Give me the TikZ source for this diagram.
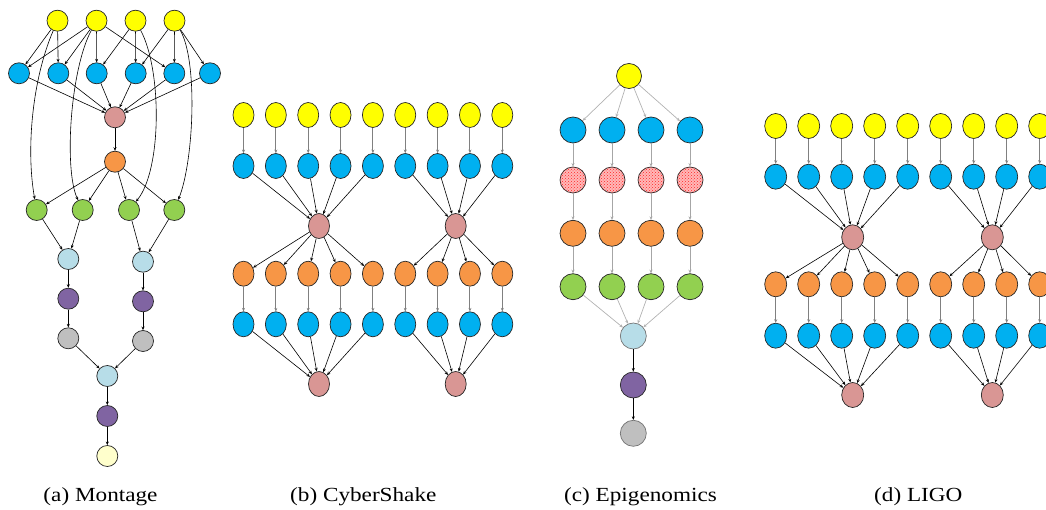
\documentclass[tikz,border=0pt]{standalone}
\usepackage{fontspec}
\setmainfont{Liberation Serif}
\usetikzlibrary{arrows.meta,shapes.geometric,patterns}

\definecolor{cyellow}{HTML}{FFFF00}
\definecolor{cblue}{HTML}{00B0F0}
\definecolor{cpink}{HTML}{D99694}
\definecolor{corange}{HTML}{F79646}
\definecolor{cgreen}{HTML}{92D050}
\definecolor{clblue}{HTML}{B7DDE8}
\definecolor{cpurple}{HTML}{8064A2}
\definecolor{cgray}{HTML}{BFBFBF}
\definecolor{clyellow}{HTML}{FFFFCC}
\definecolor{cdots}{HTML}{FFB8B8}

\begin{document}
\begin{tikzpicture}[x=1pt, y=-1pt, >={Stealth[length=3.6pt,width=3pt]}, every node/.style={inner sep=0pt}]
    % 样式定义
    \tikzstyle{job} = [circle, draw=black!85, line width=0.7pt, minimum size=21pt]
    \tikzstyle{ejob} = [ellipse, draw=black!85, line width=0.7pt, minimum width=21pt, minimum height=25pt]
    \tikzstyle{arrow} = [line width=0.6pt, ->]
    \tikzstyle{varrow} = [line width=1pt, draw=black!50, ->]
    \tikzstyle{larrow} = [line width=0.7pt, draw=black!30, ->]
    \tikzstyle{caption} = [font=\fontsize{20}{24}\selectfont, xscale=1.16, anchor=base]

    \clip (0,0) rectangle (1046,510);

    % (a) Montage
    \foreach \i/\x in {1/57.5, 2/96.5, 3/135.5, 4/174.5}
        \node[job, fill=cyellow] (mp\i) at (\x,20.7) {};
    \foreach \i/\x in {1/19, 2/58.3, 3/96.7, 4/135.7, 5/174.3, 6/210}
        \node[job, fill=cblue] (md\i) at (\x,73.3) {};
    \node[job, fill=cpink] (mcf) at (115,117.3) {};
    \node[job, fill=corange] (mbg) at (115,161.7) {};
    \foreach \i/\x in {1/36.7, 2/82.7, 3/129, 4/174.3}
        \node[job, fill=cgreen] (mbk\i) at (\x,210) {};
    \node[job, fill=clblue] (mit1) at (68.3,259) {};
    \node[job, fill=clblue] (mit2) at (143,261.7) {};
    \node[job, fill=cpurple] (ma1) at (68.3,298.7) {};
    \node[job, fill=cpurple] (ma2) at (143,301.3) {};
    \node[job, fill=cgray] (ms1) at (68.3,338.3) {};
    \node[job, fill=cgray] (ms2) at (143,341) {};
    \node[job, fill=clblue] (mit3) at (107.3,376) {};
    \node[job, fill=cpurple] (ma3) at (107.3,416) {};
    \node[job, fill=clyellow] (mj) at (107.3,456) {};

    \foreach \a/\b in {1/1, 1/2, 2/1, 2/2, 2/3, 2/5, 3/3, 3/4, 4/4, 4/5, 4/6}
        \draw[arrow] (mp\a) -- (md\b);
    \foreach \i in {1,...,6}
        \draw[arrow] (md\i) -- (mcf);
    \draw[arrow] (mcf) -- (mbg);
    \foreach \i in {1,...,4}
        \draw[arrow] (mbg) -- (mbk\i);
    \draw[arrow] (mp1) .. controls (32,80) and (26,150) .. (mbk1);
    \draw[arrow] (mp2) .. controls (70,70) and (64,170) .. (mbk2);
    \draw[arrow] (mp3) .. controls (162,70) and (162,170) .. (mbk3);
    \draw[arrow] (mp4) .. controls (198,60) and (194,160) .. (mbk4);
    \draw[arrow] (mbk1) -- (mit1);
    \draw[arrow] (mbk2) -- (mit1);
    \draw[arrow] (mbk3) -- (mit2);
    \draw[arrow] (mbk4) -- (mit2);
    \draw[arrow] (mit1) -- (ma1);
    \draw[arrow] (ma1) -- (ms1);
    \draw[arrow] (mit2) -- (ma2);
    \draw[arrow] (ma2) -- (ms2);
    \draw[arrow] (ms1) -- (mit3);
    \draw[arrow] (ms2) -- (mit3);
    \draw[arrow] (mit3) -- (ma3);
    \draw[arrow] (ma3) -- (mj);

    % (b) CyberShake
    \foreach \i in {1,...,9} {
        \node[ejob, fill=cyellow] (cs-y\i) at ({243.5+32.35*(\i-1)},115) {};
        \node[ejob, fill=cblue] (cs-b\i) at ({243.5+32.35*(\i-1)},166) {};
        \node[ejob, fill=corange] (cs-o\i) at ({243.5+32.35*(\i-1)},273.7) {};
        \node[ejob, fill=cblue] (cs-c\i) at ({243.5+32.35*(\i-1)},324.3) {};
        \draw[varrow] (cs-y\i) -- (cs-b\i);
        \draw[varrow] (cs-o\i) -- (cs-c\i);
    }
    \node[ejob, fill=cpink] (cs-z1) at (319,226) {};
    \node[ejob, fill=cpink] (cs-z2) at (455.7,226) {};
    \node[ejob, fill=cpink] (cs-w1) at (319,384) {};
    \node[ejob, fill=cpink] (cs-w2) at (455.7,384) {};
    \foreach \i in {1,...,5} {
        \draw[arrow] (cs-b\i) -- (cs-z1);
        \draw[arrow] (cs-z1) -- (cs-o\i);
        \draw[arrow] (cs-c\i) -- (cs-w1);
    }
    \foreach \i in {6,...,9} {
        \draw[arrow] (cs-b\i) -- (cs-z2);
        \draw[arrow] (cs-z2) -- (cs-o\i);
        \draw[arrow] (cs-c\i) -- (cs-w2);
    }

    % (c) Epigenomics
    \node[job, minimum size=25pt, fill=cyellow] (ef) at (629,76) {};
    \foreach \i in {1,...,4} {
        \node[job, minimum size=26pt, fill=cblue] (efc\i) at ({573+39*(\i-1)},130) {};
        \node[job, minimum size=26pt, fill=cdots, postaction={pattern=crosshatch dots, pattern color=red!85}] (es\i) at ({573+39*(\i-1)},180) {};
        \node[job, minimum size=26pt, fill=corange] (eb\i) at ({573+39*(\i-1)},233.3) {};
        \node[job, minimum size=26pt, fill=cgreen] (em\i) at ({573+39*(\i-1)},286.7) {};
        \draw[larrow] (ef) -- (efc\i);
        \draw[varrow, draw=black!35] (efc\i) -- (es\i);
        \draw[varrow, draw=black!35] (es\i) -- (eb\i);
        \draw[varrow, draw=black!35] (eb\i) -- (em\i);
    }
    \node[job, minimum size=26pt, draw=black!55, fill=clblue] (emm) at (633.3,336) {};
    \node[job, minimum size=26pt, fill=cpurple] (ei) at (633.3,385) {};
    \node[job, minimum size=26pt, draw=black!55, fill=cgray] (ep) at (633.3,433.3) {};
    \foreach \i in {1,...,4}
        \draw[larrow] (em\i) -- (emm);
    \draw[arrow] (emm) -- (ei);
    \draw[arrow] (ei) -- (ep);

    % (d) LIGO
    \foreach \i in {1,...,9} {
        \node[ejob, minimum width=22pt, fill=cyellow] (lg-y\i) at ({775.7+33*(\i-1)},126) {};
        \node[ejob, minimum width=22pt, fill=cblue] (lg-b\i) at ({775.7+33*(\i-1)},176.7) {};
        \node[ejob, minimum width=22pt, fill=corange] (lg-o\i) at ({775.7+33*(\i-1)},284.3) {};
        \node[ejob, minimum width=22pt, fill=cblue] (lg-c\i) at ({775.7+33*(\i-1)},335.7) {};
        \draw[varrow] (lg-y\i) -- (lg-b\i);
        \draw[varrow] (lg-o\i) -- (lg-c\i);
    }
    \node[ejob, minimum width=22pt, fill=cpink] (lg-t1) at (852.7,237.3) {};
    \node[ejob, minimum width=22pt, fill=cpink] (lg-t2) at (992.3,237.3) {};
    \node[ejob, minimum width=22pt, fill=cpink] (lg-s1) at (852.7,395) {};
    \node[ejob, minimum width=22pt, fill=cpink] (lg-s2) at (992.3,395) {};
    \foreach \i in {1,...,5} {
        \draw[arrow] (lg-b\i) -- (lg-t1);
        \draw[arrow] (lg-t1) -- (lg-o\i);
        \draw[arrow] (lg-c\i) -- (lg-s1);
    }
    \foreach \i in {6,...,9} {
        \draw[arrow] (lg-b\i) -- (lg-t2);
        \draw[arrow] (lg-t2) -- (lg-o\i);
        \draw[arrow] (lg-c\i) -- (lg-s2);
    }

    % 标题
    \node[caption] (capa) at (100.5,501.7) {(a) Montage};
    \node[caption] (capb) at (363.3,501.7) {(b) CyberShake};
    \node[caption] (capc) at (640.5,501.7) {(c) Epigenomics};
    \node[caption] (capd) at (918.3,501.7) {(d) LIGO};
\end{tikzpicture}
\end{document}
